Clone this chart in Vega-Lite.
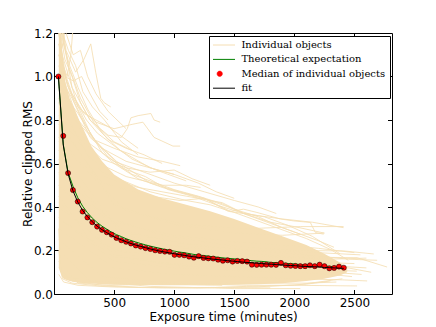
{
  "$schema": "https://vega.github.io/schema/vega-lite/v6.json",
  "width": 338,
  "height": 261,
  "autosize": {"type": "none"},
  "padding": {"left": 54, "top": 33, "right": 44, "bottom": 33},
  "config": {
    "view": {"stroke": "black", "strokeWidth": 1},
    "font": "DejaVu Sans",
    "axis": {
      "domain": false, "grid": false,
      "labelFont": "DejaVu Sans", "labelFontSize": 12, "labelColor": "black",
      "titleFont": "DejaVu Sans", "titleFontSize": 12, "titleFontWeight": "normal", "titleColor": "black",
      "tickColor": "black", "tickSize": -4.5, "tickWidth": 1, "labelPadding": 7.5
    },
    "legend": {
      "title": null, "orient": "none", "legendX": 155, "legendY": 3,
      "symbolSize": 100, "labelFont": "DejaVu Serif", "labelFontSize": 10, "labelColor": "black",
      "labelOffset": 18.4, "rowPadding": 4.4, "padding": 4,
      "strokeColor": "black", "fillColor": "white", "cornerRadius": 0
    }
  },
  "datasets": {
    "core": [
      {"t":40,"lo":0.12,"hi":1.25},{"t":45,"lo":0.11,"hi":1.25},{"t":55,"lo":0.095,"hi":1.22},{"t":65,"lo":0.08,"hi":1.14},
      {"t":80,"lo":0.07,"hi":1.03},{"t":100,"lo":0.065,"hi":0.96},{"t":130,"lo":0.06,"hi":0.9},{"t":170,"lo":0.055,"hi":0.85},
      {"t":210,"lo":0.052,"hi":0.8},{"t":260,"lo":0.05,"hi":0.74},{"t":310,"lo":0.048,"hi":0.68},{"t":400,"lo":0.045,"hi":0.61},
      {"t":500,"lo":0.043,"hi":0.55},{"t":700,"lo":0.041,"hi":0.48},{"t":900,"lo":0.04,"hi":0.44},{"t":1100,"lo":0.04,"hi":0.41},
      {"t":1300,"lo":0.04,"hi":0.38},{"t":1500,"lo":0.042,"hi":0.345},{"t":1700,"lo":0.045,"hi":0.305},{"t":1900,"lo":0.05,"hi":0.265},
      {"t":2100,"lo":0.06,"hi":0.225},{"t":2250,"lo":0.07,"hi":0.185},{"t":2380,"lo":0.085,"hi":0.145},{"t":2440,"lo":0.1,"hi":0.12}
    ],
    "ind": [
      {"o":"A1","t":40,"v":1.35},{"o":"A1","t":100,"v":1.12},{"o":"A1","t":180,"v":1.02},{"o":"A1","t":250,"v":1.08},{"o":"A1","t":306,"v":1.15},{"o":"A1","t":347,"v":1.02},{"o":"A1","t":389,"v":0.9},{"o":"A1","t":417,"v":0.88},{"o":"A1","t":472,"v":0.86},
      {"o":"A2","t":40,"v":1.3},{"o":"A2","t":150,"v":0.95},{"o":"A2","t":300,"v":0.8},{"o":"A2","t":450,"v":0.73},{"o":"A2","t":560,"v":0.72},{"o":"A2","t":610,"v":0.76},{"o":"A2","t":640,"v":0.81},{"o":"A2","t":700,"v":0.82},{"o":"A2","t":806,"v":0.83},{"o":"A2","t":833,"v":0.8},{"o":"A2","t":883,"v":0.79},
      {"o":"A3","t":40,"v":1.15},{"o":"A3","t":200,"v":0.86},{"o":"A3","t":350,"v":0.79},{"o":"A3","t":500,"v":0.76},{"o":"A3","t":650,"v":0.78},{"o":"A3","t":740,"v":0.79},{"o":"A3","t":833,"v":0.72},{"o":"A3","t":990,"v":0.68},{"o":"A3","t":1050,"v":0.68},
      {"o":"A4","t":40,"v":1.25},{"o":"A4","t":120,"v":1.05},{"o":"A4","t":220,"v":0.9},{"o":"A4","t":330,"v":0.79},{"o":"A4","t":450,"v":0.71},{"o":"A4","t":600,"v":0.67},{"o":"A4","t":750,"v":0.64},{"o":"A4","t":900,"v":0.6},
      {"o":"A5","t":40,"v":1.05},{"o":"A5","t":200,"v":0.8},{"o":"A5","t":400,"v":0.67},{"o":"A5","t":600,"v":0.61},{"o":"A5","t":800,"v":0.58},{"o":"A5","t":1000,"v":0.55},{"o":"A5","t":1200,"v":0.51},{"o":"A5","t":1350,"v":0.47},{"o":"A5","t":1500,"v":0.44},
      {"o":"A6","t":40,"v":0.98},{"o":"A6","t":250,"v":0.71},{"o":"A6","t":500,"v":0.61},{"o":"A6","t":750,"v":0.56},{"o":"A6","t":1000,"v":0.51},{"o":"A6","t":1250,"v":0.47},{"o":"A6","t":1500,"v":0.43},{"o":"A6","t":1700,"v":0.4},{"o":"A6","t":1850,"v":0.37},
      {"o":"A7","t":40,"v":0.88},{"o":"A7","t":300,"v":0.62},{"o":"A7","t":600,"v":0.54},{"o":"A7","t":900,"v":0.5},{"o":"A7","t":1100,"v":0.5},{"o":"A7","t":1220,"v":0.49},
      {"o":"A8","t":40,"v":0.82},{"o":"A8","t":400,"v":0.56},{"o":"A8","t":800,"v":0.47},{"o":"A8","t":1100,"v":0.43},{"o":"A8","t":1300,"v":0.41},{"o":"A8","t":1467,"v":0.38},{"o":"A8","t":1578,"v":0.39},{"o":"A8","t":1689,"v":0.375},{"o":"A8","t":1883,"v":0.345},{"o":"A8","t":1994,"v":0.336},{"o":"A8","t":2133,"v":0.329},{"o":"A8","t":2175,"v":0.283},{"o":"A8","t":2244,"v":0.275},
      {"o":"A9","t":40,"v":0.78},{"o":"A9","t":400,"v":0.51},{"o":"A9","t":800,"v":0.45},{"o":"A9","t":1050,"v":0.43},{"o":"A9","t":1250,"v":0.44},{"o":"A9","t":1450,"v":0.38},{"o":"A9","t":1700,"v":0.36},{"o":"A9","t":1900,"v":0.345},{"o":"A9","t":2150,"v":0.33},{"o":"A9","t":2410,"v":0.305},
      {"o":"A10","t":40,"v":1.4},{"o":"A10","t":60,"v":1.12},{"o":"A10","t":80,"v":1.16},{"o":"A10","t":100,"v":1.3},
      {"o":"A11","t":40,"v":1.3},{"o":"A11","t":70,"v":1.06},{"o":"A11","t":110,"v":1.0},{"o":"A11","t":140,"v":1.1},{"o":"A11","t":170,"v":1.3},
      {"o":"A12","t":40,"v":1.1},{"o":"A12","t":150,"v":0.92},{"o":"A12","t":250,"v":0.83},{"o":"A12","t":350,"v":0.8},{"o":"A12","t":450,"v":0.77},{"o":"A12","t":600,"v":0.71},{"o":"A12","t":700,"v":0.67},
      {"o":"A13","t":40,"v":0.95},{"o":"A13","t":180,"v":0.8},{"o":"A13","t":330,"v":0.71},{"o":"A13","t":500,"v":0.67},{"o":"A13","t":700,"v":0.63},{"o":"A13","t":900,"v":0.61},{"o":"A13","t":1050,"v":0.59},
      {"o":"A14","t":40,"v":0.72},{"o":"A14","t":300,"v":0.56},{"o":"A14","t":700,"v":0.49},{"o":"A14","t":1100,"v":0.45},{"o":"A14","t":1400,"v":0.42},{"o":"A14","t":1580,"v":0.37},{"o":"A14","t":1800,"v":0.33},{"o":"A14","t":2000,"v":0.31},{"o":"A14","t":2250,"v":0.28},
      {"o":"A15","t":40,"v":1.2},{"o":"A15","t":90,"v":1.0},{"o":"A15","t":160,"v":0.98},{"o":"A15","t":230,"v":1.0},{"o":"A15","t":300,"v":0.92},{"o":"A15","t":380,"v":0.84},{"o":"A15","t":450,"v":0.8},
      {"o":"A16","t":40,"v":0.9},{"o":"A16","t":200,"v":0.72},{"o":"A16","t":400,"v":0.62},{"o":"A16","t":600,"v":0.58},{"o":"A16","t":800,"v":0.56},{"o":"A16","t":1000,"v":0.57},{"o":"A16","t":1150,"v":0.53},{"o":"A16","t":1300,"v":0.5},
      {"o":"B1","t":40,"v":0.62},{"o":"B1","t":400,"v":0.36},{"o":"B1","t":900,"v":0.27},{"o":"B1","t":1500,"v":0.22},{"o":"B1","t":2000,"v":0.2},{"o":"B1","t":2411,"v":0.198},{"o":"B1","t":2661,"v":0.184},
      {"o":"B2","t":40,"v":0.5},{"o":"B2","t":400,"v":0.3},{"o":"B2","t":900,"v":0.23},{"o":"B2","t":1500,"v":0.19},{"o":"B2","t":2000,"v":0.17},{"o":"B2","t":2522,"v":0.167},{"o":"B2","t":2772,"v":0.124},
      {"o":"B3","t":40,"v":0.56},{"o":"B3","t":500,"v":0.3},{"o":"B3","t":1000,"v":0.24},{"o":"B3","t":1600,"v":0.2},{"o":"B3","t":2100,"v":0.18},{"o":"B3","t":2450,"v":0.16},{"o":"B3","t":2689,"v":0.155},
      {"o":"B4","t":40,"v":0.3},{"o":"B4","t":500,"v":0.12},{"o":"B4","t":1000,"v":0.09},{"o":"B4","t":1500,"v":0.08},{"o":"B4","t":2000,"v":0.07},{"o":"B4","t":2400,"v":0.065},{"o":"B4","t":2606,"v":0.06},
      {"o":"B5","t":40,"v":0.25},{"o":"B5","t":400,"v":0.08},{"o":"B5","t":1000,"v":0.05},{"o":"B5","t":1600,"v":0.04},{"o":"B5","t":2000,"v":0.04},{"o":"B5","t":2522,"v":0.037},
      {"o":"B6","t":40,"v":0.35},{"o":"B6","t":500,"v":0.15},{"o":"B6","t":1000,"v":0.12},{"o":"B6","t":1500,"v":0.11},{"o":"B6","t":2000,"v":0.1},{"o":"B6","t":2300,"v":0.09},{"o":"B6","t":2480,"v":0.08},
      {"o":"B7","t":40,"v":0.4},{"o":"B7","t":500,"v":0.2},{"o":"B7","t":1000,"v":0.17},{"o":"B7","t":1500,"v":0.15},{"o":"B7","t":2000,"v":0.14},{"o":"B7","t":2300,"v":0.13},{"o":"B7","t":2600,"v":0.12},
      {"o":"B8","t":40,"v":0.66},{"o":"B8","t":500,"v":0.33},{"o":"B8","t":1000,"v":0.27},{"o":"B8","t":1500,"v":0.24},{"o":"B8","t":2000,"v":0.22},{"o":"B8","t":2200,"v":0.21},{"o":"B8","t":2500,"v":0.19},
      {"o":"B9","t":40,"v":0.2},{"o":"B9","t":300,"v":0.06},{"o":"B9","t":800,"v":0.035},{"o":"B9","t":1500,"v":0.025},{"o":"B9","t":2050,"v":0.025},
      {"o":"B10","t":40,"v":0.15},{"o":"B10","t":200,"v":0.05},{"o":"B10","t":700,"v":0.03},{"o":"B10","t":1300,"v":0.03},{"o":"B10","t":1800,"v":0.028},
      {"o":"B11","t":40,"v":0.12},{"o":"B11","t":150,"v":0.06},{"o":"B11","t":400,"v":0.04},{"o":"B11","t":900,"v":0.045},{"o":"B11","t":1500,"v":0.05},{"o":"B11","t":2100,"v":0.05},{"o":"B11","t":2350,"v":0.055},
      {"o":"B12","t":40,"v":0.45},{"o":"B12","t":300,"v":0.25},{"o":"B12","t":800,"v":0.15},{"o":"B12","t":1400,"v":0.11},{"o":"B12","t":1900,"v":0.1},{"o":"B12","t":2300,"v":0.1},{"o":"B12","t":2560,"v":0.09},
      {"o":"B13","t":40,"v":0.8},{"o":"B13","t":500,"v":0.41},{"o":"B13","t":1000,"v":0.32},{"o":"B13","t":1500,"v":0.28},{"o":"B13","t":1900,"v":0.27},{"o":"B13","t":2250,"v":0.28},
      {"o":"B14","t":40,"v":0.7},{"o":"B14","t":600,"v":0.38},{"o":"B14","t":1100,"v":0.32},{"o":"B14","t":1600,"v":0.3},{"o":"B14","t":2050,"v":0.31},{"o":"B14","t":2410,"v":0.31},
      {"o":"B15","t":40,"v":0.55},{"o":"B15","t":600,"v":0.28},{"o":"B15","t":1200,"v":0.22},{"o":"B15","t":1700,"v":0.2},{"o":"B15","t":2200,"v":0.19},{"o":"B15","t":2550,"v":0.18},
      {"o":"B16","t":40,"v":0.3},{"o":"B16","t":60,"v":0.1},{"o":"B16","t":100,"v":0.08},{"o":"B16","t":300,"v":0.06},{"o":"B16","t":600,"v":0.05},{"o":"B16","t":1000,"v":0.045},{"o":"B16","t":1400,"v":0.04},
      {"o":"B17","t":40,"v":0.42},{"o":"B17","t":500,"v":0.18},{"o":"B17","t":1000,"v":0.13},{"o":"B17","t":1500,"v":0.12},{"o":"B17","t":2000,"v":0.12},{"o":"B17","t":2350,"v":0.13},{"o":"B17","t":2640,"v":0.1},
      {"o":"B18","t":40,"v":0.6},{"o":"B18","t":600,"v":0.26},{"o":"B18","t":1200,"v":0.2},{"o":"B18","t":1800,"v":0.17},{"o":"B18","t":2300,"v":0.16},{"o":"B18","t":2600,"v":0.165},
      {"o":"C1","t":40,"v":1.2},{"o":"C1","t":100,"v":0.99},{"o":"C1","t":170,"v":0.88},{"o":"C1","t":260,"v":0.78},{"o":"C1","t":400,"v":0.65},{"o":"C1","t":500,"v":0.6},{"o":"C1","t":700,"v":0.53},{"o":"C1","t":900,"v":0.49},{"o":"C1","t":1100,"v":0.46},{"o":"C1","t":1300,"v":0.43},{"o":"C1","t":1500,"v":0.39},{"o":"C1","t":1700,"v":0.355},{"o":"C1","t":1900,"v":0.305},{"o":"C1","t":2050,"v":0.275},
      {"o":"C2","t":40,"v":1.1},{"o":"C2","t":130,"v":0.93},{"o":"C2","t":210,"v":0.85},{"o":"C2","t":310,"v":0.73},{"o":"C2","t":450,"v":0.63},{"o":"C2","t":650,"v":0.55},{"o":"C2","t":850,"v":0.51},{"o":"C2","t":1000,"v":0.48},{"o":"C2","t":1200,"v":0.45},{"o":"C2","t":1400,"v":0.415},{"o":"C2","t":1600,"v":0.365},{"o":"C2","t":1800,"v":0.325},{"o":"C2","t":2000,"v":0.285},{"o":"C2","t":2200,"v":0.245},{"o":"C2","t":2330,"v":0.215},
      {"o":"C3","t":40,"v":1.0},{"o":"C3","t":150,"v":0.9},{"o":"C3","t":300,"v":0.72},{"o":"C3","t":420,"v":0.66},{"o":"C3","t":560,"v":0.58},{"o":"C3","t":760,"v":0.54},{"o":"C3","t":950,"v":0.48},{"o":"C3","t":1150,"v":0.45},{"o":"C3","t":1350,"v":0.41},{"o":"C3","t":1550,"v":0.375},{"o":"C3","t":1750,"v":0.355},{"o":"C3","t":1950,"v":0.315},{"o":"C3","t":2150,"v":0.265},{"o":"C3","t":2380,"v":0.185},
      {"o":"C4","t":40,"v":0.95},{"o":"C4","t":200,"v":0.83},{"o":"C4","t":350,"v":0.7},{"o":"C4","t":520,"v":0.61},{"o":"C4","t":800,"v":0.51},{"o":"C4","t":1050,"v":0.47},{"o":"C4","t":1250,"v":0.44},{"o":"C4","t":1450,"v":0.385},{"o":"C4","t":1650,"v":0.345},{"o":"C4","t":1850,"v":0.305},{"o":"C4","t":2100,"v":0.255},{"o":"C4","t":2300,"v":0.205},{"o":"C4","t":2450,"v":0.155},
      {"o":"C5","t":40,"v":0.09},{"o":"C5","t":80,"v":0.055},{"o":"C5","t":200,"v":0.04},{"o":"C5","t":500,"v":0.032},{"o":"C5","t":900,"v":0.028},{"o":"C5","t":1300,"v":0.03},{"o":"C5","t":1700,"v":0.033},{"o":"C5","t":2100,"v":0.045},{"o":"C5","t":2300,"v":0.06},
      {"o":"C6","t":40,"v":0.2},{"o":"C6","t":70,"v":0.07},{"o":"C6","t":150,"v":0.05},{"o":"C6","t":400,"v":0.036},{"o":"C6","t":800,"v":0.03},{"o":"C6","t":1200,"v":0.027},{"o":"C6","t":1600,"v":0.035},{"o":"C6","t":2000,"v":0.04},{"o":"C6","t":2400,"v":0.07},
      {"o":"C7","t":40,"v":0.35},{"o":"C7","t":500,"v":0.17},{"o":"C7","t":1000,"v":0.14},{"o":"C7","t":1500,"v":0.13},{"o":"C7","t":2000,"v":0.12},{"o":"C7","t":2300,"v":0.11},{"o":"C7","t":2520,"v":0.105},
      {"o":"C8","t":40,"v":0.5},{"o":"C8","t":600,"v":0.22},{"o":"C8","t":1200,"v":0.17},{"o":"C8","t":1800,"v":0.15},{"o":"C8","t":2200,"v":0.145},{"o":"C8","t":2500,"v":0.14},
      {"o":"D1","t":40,"v":1.3},{"o":"D1","t":80,"v":1.15},{"o":"D1","t":130,"v":1.05},{"o":"D1","t":200,"v":0.95},{"o":"D1","t":280,"v":0.85},{"o":"D1","t":380,"v":0.76},{"o":"D1","t":500,"v":0.7},{"o":"D1","t":650,"v":0.66},
      {"o":"D2","t":40,"v":1.35},{"o":"D2","t":70,"v":1.2},{"o":"D2","t":120,"v":1.12},{"o":"D2","t":180,"v":1.05},{"o":"D2","t":240,"v":0.93},{"o":"D2","t":320,"v":0.86},{"o":"D2","t":420,"v":0.8},{"o":"D2","t":560,"v":0.7},{"o":"D2","t":700,"v":0.64},
      {"o":"D3","t":40,"v":1.25},{"o":"D3","t":90,"v":1.08},{"o":"D3","t":150,"v":1.0},{"o":"D3","t":220,"v":0.88},{"o":"D3","t":300,"v":0.8},{"o":"D3","t":400,"v":0.74},{"o":"D3","t":550,"v":0.66},{"o":"D3","t":800,"v":0.58},{"o":"D3","t":1000,"v":0.55},
      {"o":"D4","t":40,"v":1.4},{"o":"D4","t":100,"v":1.2},{"o":"D4","t":160,"v":1.1},{"o":"D4","t":220,"v":1.12},{"o":"D4","t":280,"v":1.0},{"o":"D4","t":350,"v":0.92},{"o":"D4","t":450,"v":0.84},{"o":"D4","t":600,"v":0.76},
      {"o":"D5","t":40,"v":1.15},{"o":"D5","t":110,"v":0.96},{"o":"D5","t":190,"v":0.88},{"o":"D5","t":270,"v":0.8},{"o":"D5","t":360,"v":0.74},{"o":"D5","t":480,"v":0.69},{"o":"D5","t":650,"v":0.62},{"o":"D5","t":850,"v":0.57},{"o":"D5","t":1100,"v":0.52},
      {"o":"D6","t":40,"v":1.3},{"o":"D6","t":60,"v":1.25},{"o":"D6","t":90,"v":1.2},{"o":"D6","t":130,"v":1.25}
    ],
    "med": [
      {"t":36.6,"m":1.0,"f":1.0,"th":1.0},{"t":76.9,"m":0.727,"f":0.685,"th":0.690},{"t":117.1,"m":0.556,"f":0.553,"th":0.559},
      {"t":157.4,"m":0.478,"f":0.475,"th":0.496},{"t":197.6,"m":0.425,"f":0.423,"th":0.443},{"t":237.9,"m":0.379,"f":0.385,"th":0.404},
      {"t":278.2,"m":0.352,"f":0.356,"th":0.374},{"t":318.4,"m":0.330,"f":0.332,"th":0.349},{"t":358.7,"m":0.310,"f":0.312,"th":0.329},
      {"t":398.9,"m":0.295,"f":0.296,"th":0.312},{"t":439.2,"m":0.284,"f":0.282,"th":0.298},{"t":479.5,"m":0.273,"f":0.269,"th":0.284},
      {"t":519.7,"m":0.258,"f":0.258,"th":0.273},{"t":560.0,"m":0.247,"f":0.249,"th":0.264},{"t":600.2,"m":0.240,"f":0.240,"th":0.254},
      {"t":640.5,"m":0.232,"f":0.232,"th":0.246},{"t":680.8,"m":0.223,"f":0.225,"th":0.239},{"t":721.0,"m":0.218,"f":0.219,"th":0.232},
      {"t":761.3,"m":0.211,"f":0.213,"th":0.226},{"t":801.5,"m":0.207,"f":0.207,"th":0.220},{"t":841.8,"m":0.201,"f":0.202,"th":0.215},
      {"t":882.1,"m":0.198,"f":0.197,"th":0.210},{"t":922.3,"m":0.195,"f":0.193,"th":0.205},{"t":962.6,"m":0.194,"f":0.189,"th":0.201},
      {"t":1002.8,"m":0.180,"f":0.185,"th":0.197},{"t":1043.1,"m":0.180,"f":0.181,"th":0.193},{"t":1083.4,"m":0.178,"f":0.178,"th":0.190},
      {"t":1123.6,"m":0.172,"f":0.174,"th":0.186},{"t":1163.9,"m":0.167,"f":0.171,"th":0.182},{"t":1204.1,"m":0.174,"f":0.168,"th":0.179},
      {"t":1244.4,"m":0.166,"f":0.166,"th":0.177},{"t":1284.7,"m":0.164,"f":0.163,"th":0.174},{"t":1324.9,"m":0.163,"f":0.160,"th":0.171},
      {"t":1365.2,"m":0.158,"f":0.158,"th":0.169},{"t":1405.4,"m":0.153,"f":0.156,"th":0.166},{"t":1445.7,"m":0.155,"f":0.153,"th":0.164},
      {"t":1486.0,"m":0.149,"f":0.151,"th":0.162},{"t":1526.2,"m":0.152,"f":0.149,"th":0.160},{"t":1566.5,"m":0.151,"f":0.147,"th":0.158},
      {"t":1606.7,"m":0.149,"f":0.145,"th":0.156},{"t":1647.0,"m":0.135,"f":0.1435,"th":0.153},{"t":1687.3,"m":0.134,"f":0.142,"th":0.151},
      {"t":1727.5,"m":0.135,"f":0.140,"th":0.150},{"t":1767.8,"m":0.135,"f":0.138,"th":0.148},{"t":1808.0,"m":0.135,"f":0.137,"th":0.145},
      {"t":1848.3,"m":0.134,"f":0.135,"th":0.144},{"t":1888.6,"m":0.143,"f":0.134,"th":0.142},{"t":1928.8,"m":0.132,"f":0.132,"th":0.141},
      {"t":1969.1,"m":0.130,"f":0.131,"th":0.139},{"t":2009.3,"m":0.129,"f":0.130,"th":0.138},{"t":2049.6,"m":0.128,"f":0.128,"th":0.135},
      {"t":2089.9,"m":0.128,"f":0.127,"th":0.1335},{"t":2130.1,"m":0.132,"f":0.126,"th":0.132},{"t":2170.4,"m":0.128,"f":0.125,"th":0.131},
      {"t":2210.6,"m":0.135,"f":0.124,"th":0.130},{"t":2250.9,"m":0.128,"f":0.122,"th":0.129},{"t":2291.2,"m":0.118,"f":0.121,"th":0.127},
      {"t":2331.4,"m":0.120,"f":0.120,"th":0.126},{"t":2371.7,"m":0.126,"f":0.119,"th":0.125},{"t":2411.9,"m":0.121,"f":0.118,"th":0.124}
    ]
  },
  "layer": [
    {
      "data": {"name": "core"},
      "mark": {"type": "area", "clip": true, "color": "#F5DEB3", "opacity": 1},
      "encoding": {
        "x": {"field": "t", "type": "quantitative", "scale": {"domain": [0, 2813], "nice": false, "zero": false},
              "axis": {"orient": "bottom", "title": "Exposure time (minutes)", "values": [0, 500, 1000, 1500, 2000, 2500], "format": "d", "labelExpr": "datum.value == 0 ? '' : datum.label", "titlePadding": 3}},
        "y": {"field": "hi", "type": "quantitative", "scale": {"domain": [0, 1.2], "nice": false, "zero": false},
              "axis": {"orient": "left", "title": "Relative clipped RMS", "values": [0, 0.2, 0.4, 0.6, 0.8, 1.0, 1.2], "format": ".1f", "labelPadding": 6, "titlePadding": -1}},
        "y2": {"field": "lo"}
      }
    },
    {
      "data": {"name": "ind"},
      "mark": {"type": "line", "clip": true, "strokeWidth": 1, "opacity": 0.85},
      "encoding": {
        "x": {"field": "t", "type": "quantitative", "axis": null},
        "y": {"field": "v", "type": "quantitative", "axis": null},
        "detail": {"field": "o"},
        "color": {
          "datum": "Individual objects",
          "type": "nominal",
          "scale": {"domain": ["Individual objects", "Theoretical expectation", "Median of individual objects", "fit"],
                    "range": ["#F5DEB3", "#008000", "#FF0000", "#000000"]},
          "legend": {
            "encode": {"symbols": {"update": {
              "shape": {"signal": "datum.value === 'Median of individual objects' ? 'M0.88,0A0.54,0.54,0,1,1,-0.2,0A0.54,0.54,0,1,1,0.88,0Z' : 'M-1,0H3.4'"},
              "fill": {"signal": "datum.value === 'Median of individual objects' ? '#FF0000' : 'transparent'"},
              "stroke": {"signal": "datum.value === 'Individual objects' ? '#F5DEB3' : datum.value === 'Theoretical expectation' ? '#008000' : '#000000'"},
              "strokeWidth": {"signal": "datum.value === 'Median of individual objects' ? 0.5 : 1"},
              "opacity": {"value": 1}}}}
          }
        }
      }
    },
    {
      "data": {"name": "med"},
      "mark": {"type": "line", "clip": true, "strokeWidth": 1},
      "encoding": {
        "x": {"field": "t", "type": "quantitative", "axis": null},
        "y": {"field": "th", "type": "quantitative", "axis": null},
        "color": {"datum": "Theoretical expectation", "type": "nominal",
          "legend": {
            "encode": {"symbols": {"update": {
              "shape": {"signal": "datum.value === 'Median of individual objects' ? 'M0.88,0A0.54,0.54,0,1,1,-0.2,0A0.54,0.54,0,1,1,0.88,0Z' : 'M-1,0H3.4'"},
              "fill": {"signal": "datum.value === 'Median of individual objects' ? '#FF0000' : 'transparent'"},
              "stroke": {"signal": "datum.value === 'Individual objects' ? '#F5DEB3' : datum.value === 'Theoretical expectation' ? '#008000' : '#000000'"},
              "strokeWidth": {"signal": "datum.value === 'Median of individual objects' ? 0.5 : 1"},
              "opacity": {"value": 1}}}}
          }}
      }
    },
    {
      "data": {"name": "med"},
      "mark": {"type": "point", "filled": true, "size": 26, "stroke": "black", "strokeWidth": 0.5, "opacity": 1},
      "encoding": {
        "x": {"field": "t", "type": "quantitative", "axis": null},
        "y": {"field": "m", "type": "quantitative", "axis": null},
        "color": {"datum": "Median of individual objects", "type": "nominal",
          "legend": {
            "encode": {"symbols": {"update": {
              "shape": {"signal": "datum.value === 'Median of individual objects' ? 'M0.88,0A0.54,0.54,0,1,1,-0.2,0A0.54,0.54,0,1,1,0.88,0Z' : 'M-1,0H3.4'"},
              "fill": {"signal": "datum.value === 'Median of individual objects' ? '#FF0000' : 'transparent'"},
              "stroke": {"signal": "datum.value === 'Individual objects' ? '#F5DEB3' : datum.value === 'Theoretical expectation' ? '#008000' : '#000000'"},
              "strokeWidth": {"signal": "datum.value === 'Median of individual objects' ? 0.5 : 1"},
              "opacity": {"value": 1}}}}
          }}
      }
    },
    {
      "data": {"name": "med"},
      "mark": {"type": "line", "clip": true, "strokeWidth": 1},
      "encoding": {
        "x": {"field": "t", "type": "quantitative",
              "axis": {"orient": "top", "labels": false, "title": null, "values": [500, 1000, 1500, 2000, 2500]}},
        "y": {"field": "f", "type": "quantitative",
              "axis": {"orient": "right", "labels": false, "title": null, "values": [0.2, 0.4, 0.6, 0.8, 1.0]}},
        "color": {"datum": "fit", "type": "nominal",
          "legend": {
            "encode": {"symbols": {"update": {
              "shape": {"signal": "datum.value === 'Median of individual objects' ? 'M0.88,0A0.54,0.54,0,1,1,-0.2,0A0.54,0.54,0,1,1,0.88,0Z' : 'M-1,0H3.4'"},
              "fill": {"signal": "datum.value === 'Median of individual objects' ? '#FF0000' : 'transparent'"},
              "stroke": {"signal": "datum.value === 'Individual objects' ? '#F5DEB3' : datum.value === 'Theoretical expectation' ? '#008000' : '#000000'"},
              "strokeWidth": {"signal": "datum.value === 'Median of individual objects' ? 0.5 : 1"},
              "opacity": {"value": 1}}}}
          }}
      }
    }
  ],
  "resolve": {"axis": {"x": "independent", "y": "independent"}}
}
